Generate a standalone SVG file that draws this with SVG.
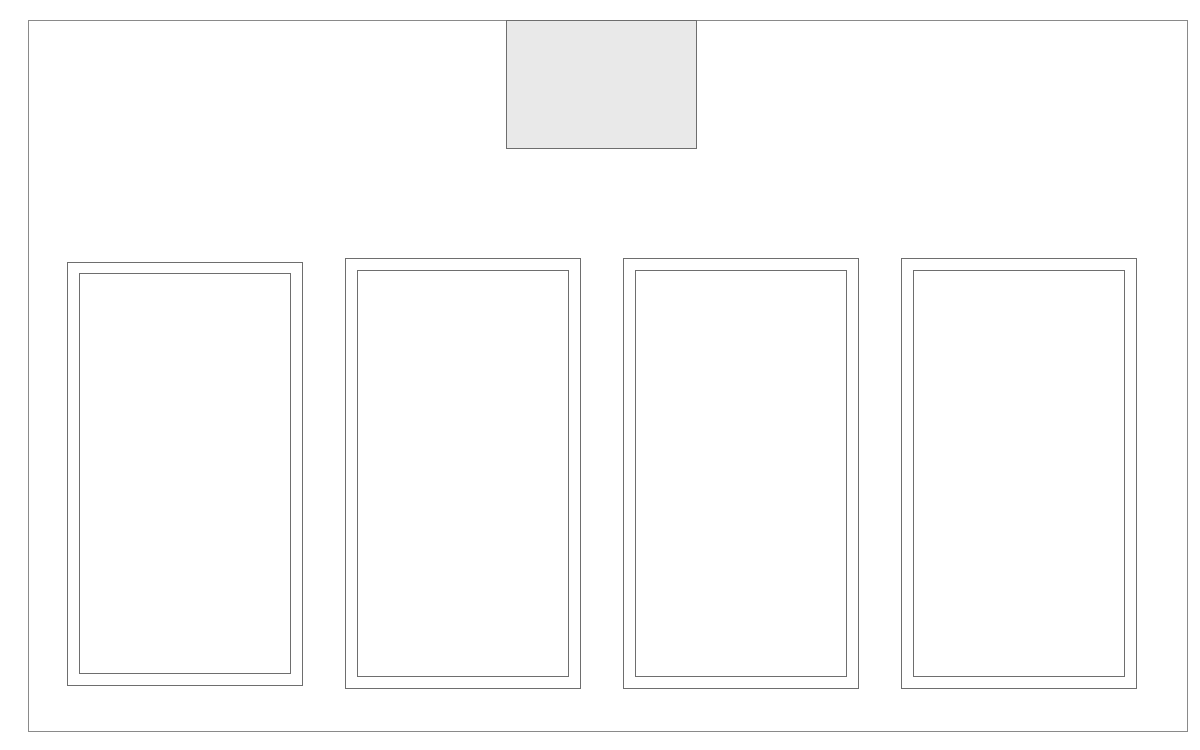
<svg xmlns="http://www.w3.org/2000/svg" width="1200" height="750" viewBox="0 0 1200 750">
<style>
.frame{fill:#fff;stroke:#8a8a8a;stroke-width:1}
.panel{fill:#fff;stroke:#6e6e6e;stroke-width:1}
.inner{fill:#fff;stroke:#6e6e6e;stroke-width:1}
.head{fill:#e9e9e9;stroke:#6e6e6e;stroke-width:1}
</style>
<rect width="1200" height="750" fill="#fff"/>
<g id="frame"><rect class="frame" x="28.5" y="20.5" width="1159" height="711"/></g>
<g id="header"><rect class="head" x="506.5" y="20.5" width="190" height="128"/></g>
<g id="panel1"><rect class="panel" x="67.5" y="262.5" width="235" height="423"/><rect class="inner" x="79.5" y="273.5" width="211" height="400"/></g>
<g id="panel2"><rect class="panel" x="345.5" y="258.5" width="235" height="430"/><rect class="inner" x="357.5" y="270.5" width="211" height="406"/></g>
<g id="panel3"><rect class="panel" x="623.5" y="258.5" width="235" height="430"/><rect class="inner" x="635.5" y="270.5" width="211" height="406"/></g>
<g id="panel4"><rect class="panel" x="901.5" y="258.5" width="235" height="430"/><rect class="inner" x="913.5" y="270.5" width="211" height="406"/></g>
<g id="connectors"></g>
</svg>
